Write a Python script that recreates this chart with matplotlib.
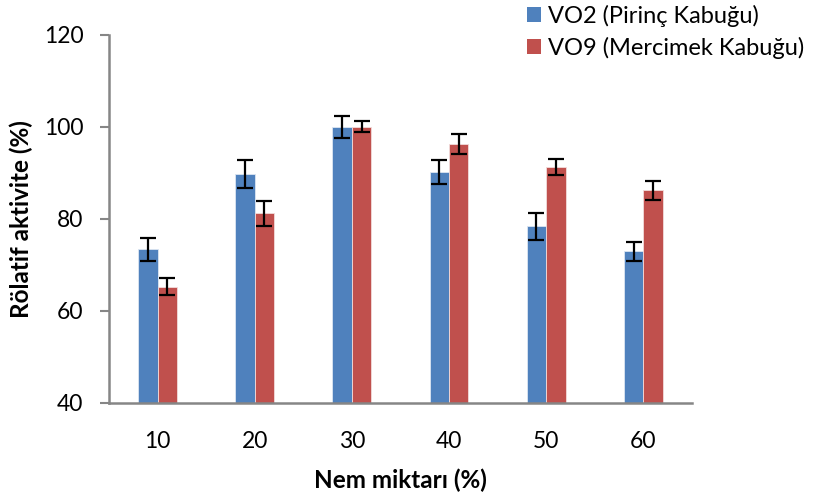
import matplotlib
matplotlib.use("Agg")
import matplotlib.pyplot as plt
import numpy as np
from matplotlib.patches import Patch

plt.rcParams['font.family'] = ['Lato', 'DejaVu Sans']

categories = ["10", "20", "30", "40", "50", "60"]
vo2 = [73.4, 89.8, 100.0, 90.2, 78.4, 73.0]
vo2_err = [2.5, 3.0, 2.3, 2.6, 3.0, 2.1]
vo9 = [65.3, 81.2, 100.0, 96.3, 91.3, 86.2]
vo9_err = [1.9, 2.8, 1.2, 2.2, 1.8, 2.1]
series_names = ["VO2 (Pirinç Kabuğu)", "VO9 (Mercimek Kabuğu)"]
colors = ["#4F81BD", "#C0504D"]

fig = plt.figure(figsize=(8.14, 4.99), dpi=100)
ax = fig.add_axes([0.1339, 0.1924, 0.716, 0.930 - 0.1924])

x = np.arange(len(categories))
w = 0.2
ekw = dict(ecolor="black", elinewidth=1.6, capsize=6, capthick=1.6)
ax.bar(x - w/2, vo2, w, yerr=vo2_err, color=colors[0], edgecolor="#dce6f2", linewidth=0.6, error_kw=ekw, zorder=2)
ax.bar(x + w/2, vo9, w, yerr=vo9_err, color=colors[1], edgecolor="#f2dcdb", linewidth=0.6, error_kw=ekw, zorder=2)

ax.set_xlim(-0.5, len(categories) - 0.5)
ax.set_ylim(40, 120)
ax.set_yticks([40, 60, 80, 100, 120])
ax.set_xticks(x)
ax.set_xticklabels(categories)
for s in ["top", "right"]:
    ax.spines[s].set_visible(False)
for s in ["left", "bottom"]:
    ax.spines[s].set_color("#868686")
    ax.spines[s].set_linewidth(1.8)
ax.tick_params(axis="y", direction="out", length=6.5, width=1.5, color="#868686", labelsize=16.5, pad=12)
ax.tick_params(axis="x", length=0, labelsize=16.5, pad=20)

ax.set_ylabel("Rölatif aktivite (%)", fontsize=17.5, fontweight="bold", labelpad=8)
ax.set_xlabel("Nem miktarı (%)", fontsize=17.5, fontweight="bold", labelpad=12)

handles = [Patch(facecolor=c, edgecolor="none") for c in colors]
fig.legend(handles, series_names, loc="upper left", bbox_to_anchor=(0.6474, 0.99),
           frameon=False, fontsize=17, handlelength=0.6, handleheight=0.6,
           handletextpad=0.28, labelspacing=0.41, borderpad=0, borderaxespad=0)

fig.savefig("out.png", dpi=100)
